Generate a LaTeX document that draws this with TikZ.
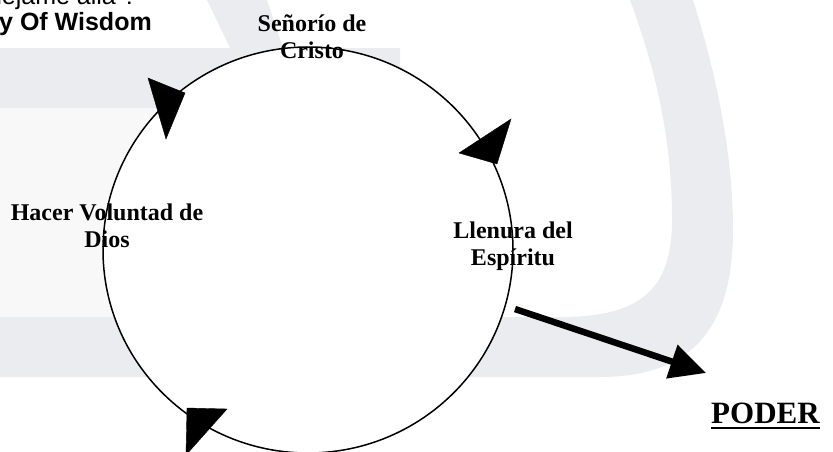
\documentclass[tikz,border=0pt]{standalone}
\usepackage{fontspec}
\setmainfont{Liberation Serif}
\setsansfont{Liberation Sans}
\usepackage{tikz}
\usetikzlibrary{
  shapes.geometric, arrows.meta, positioning
}
\definecolor{markgray}{RGB}{235,236,239}
\definecolor{marklight}{RGB}{248,248,248}
\tikzset{
  cyclelabel/.style={
    align=center, inner sep=0pt,
    font=\fontsize{24}{27}\selectfont\bfseries
  },
  cyclering/.style={
    draw, ellipse, line width=1.5pt, fill=white, inner sep=0pt,
    minimum width=410pt, minimum height=406pt
  },
  cyclehead/.style={
    fill=black, draw=black, line join=miter
  },
  markband/.style={
    fill=markgray, draw=none
  },
  marktext/.style={
    inner sep=0pt, font=\sffamily\fontsize{25}{28}\selectfont
  },
  powerarrow/.style={
    -{Triangle[length=36pt, width=34pt]}, line width=6.5pt
  },
}

\begin{document}
\begin{tikzpicture}[x=1pt, y=-1pt]
  \useasboundingbox (0,0) rectangle (833,451);

  % Watermark behind the cycle
  \fill[markband] (207,0) -- (267,0) -- (283,48) -- (400,48) -- (400,108)
    -- (0,108) -- (0,48) -- (230,48) -- cycle;
  \fill[marklight] (0,108) rectangle (300,317);
  \fill[markband] (0,317) -- (560,317)
    .. controls (640,317) and (672,290) .. (672,220)
    .. controls (672,130) and (652,60) .. (630,0) -- (693,0)
    .. controls (715,70) and (733,150) .. (733,230)
    .. controls (733,330) and (690,377) .. (600,377) -- (0,377) -- cycle;
  \node[marktext, anchor=base east] (marktop) at (137,4) {dejame allá ?};
  \node[marktext, font=\sffamily\fontsize{25}{28}\selectfont\bfseries,
    anchor=base west] (marktitle) at (-1,30) {y Of Wisdom};

  % Cycle
  \node[cyclering] (ciclo) at (308,250) {};

  % Arrow heads on the cycle
  \fill[cyclehead] (148,78) -- (185,93) -- (166,139) -- cycle;
  \fill[cyclehead] (459,153) -- (511,119) -- (497,164) -- cycle;
  \fill[cyclehead] (187,408) -- (227,409) -- (186,455) -- cycle;

  % Stages
  \node[cyclelabel, anchor=base] (senorio) at (312,58) {Señorío de\\Cristo};
  \node[cyclelabel, anchor=base] (voluntad) at (107,247) {Hacer Voluntad de\\Dios};
  \node[cyclelabel, anchor=base] (llenura) at (513,265) {Llenura del\\Espíritu};

  % Way out to power
  \coordinate (salida) at (515,309);
  \coordinate (punta) at (706,373);
  \draw[powerarrow] (salida) -- (punta);
  \node[inner sep=0pt, font=\fontsize{31}{34}\selectfont\bfseries,
    anchor=base west] (poder) at (711,423) {PODER};
  \draw[line width=2pt] ([yshift=-5pt]poder.base west) -- ([yshift=-5pt]poder.base east);
\end{tikzpicture}
\end{document}
